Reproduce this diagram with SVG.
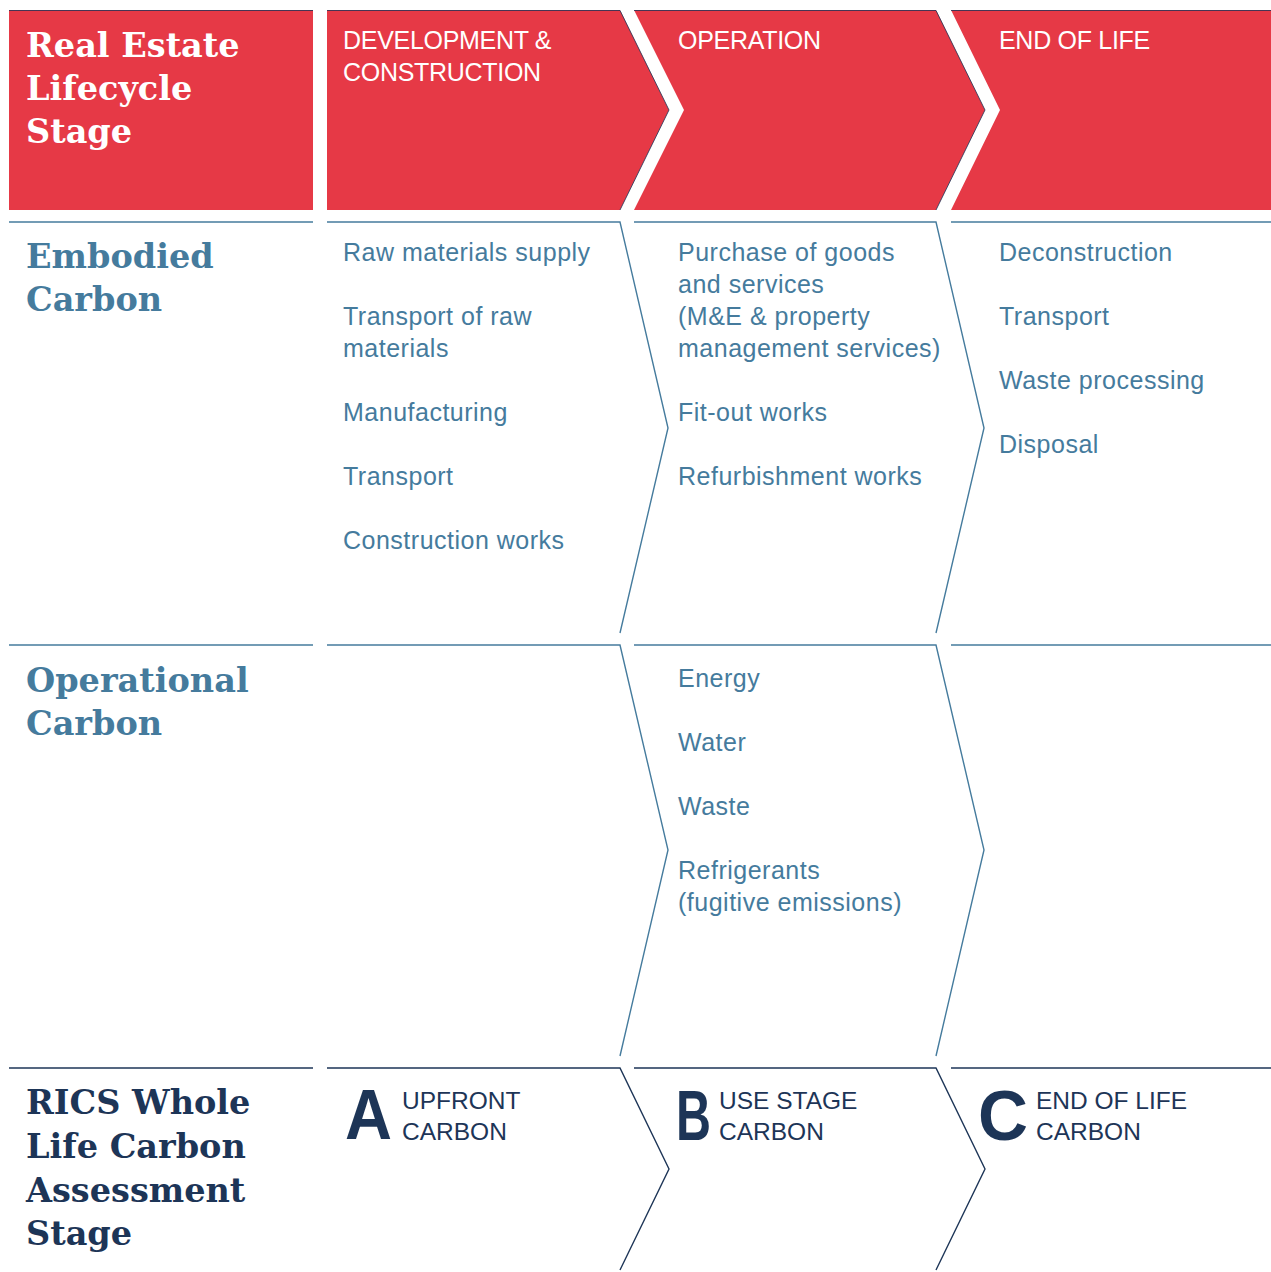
<svg xmlns="http://www.w3.org/2000/svg" width="1271" height="1272" viewBox="0 0 1271 1272">
  <style>
    .band { fill: #e63946; }
    .edge { fill: none; stroke: #1d3557; stroke-width: 1; stroke-opacity: 0.8; }
    .rule { fill: none; stroke: #457b9d; stroke-width: 1.4; }
    .rule-dark { fill: none; stroke: #1d3557; stroke-width: 1.4; }
    .title { font-family: "DejaVu Serif", "Liberation Serif", serif; font-weight: bold; font-size: 33.5px; }
    .head { font-family: "Liberation Sans", Arial, sans-serif; font-size: 25px; fill: #ffffff; letter-spacing: -0.3px; }
    .item { font-family: "Liberation Sans", Arial, sans-serif; font-size: 25px; fill: #457b9d; letter-spacing: 0.5px; }
    .stage { font-family: "Liberation Sans", Arial, sans-serif; font-size: 24.5px; fill: #1d3557; }
    .letter { font-family: "Liberation Sans", Arial, sans-serif; font-weight: bold; font-size: 70px; fill: #1d3557; }
  </style>

  <!-- Header band: lifecycle stage chevrons -->
  <g id="header-label">
    <rect class="band" x="9" y="10" width="304" height="200"/>
    <line class="edge" x1="9" y1="10.5" x2="313" y2="10.5"/>
    <text class="title" fill="#ffffff"><tspan x="26" y="57">Real Estate</tspan><tspan x="26" y="100">Lifecycle</tspan><tspan x="26" y="143">Stage</tspan></text>
  </g>
  <g id="stage-development">
    <polygon class="band" points="327,10 620,10 669,110 620,210 327,210"/>
    <polyline class="edge" points="327,10.5 620,10.5 669,110 620,210"/>
    <text class="head"><tspan x="343" y="49">DEVELOPMENT &amp;</tspan><tspan x="343" y="81">CONSTRUCTION</tspan></text>
  </g>
  <g id="stage-operation">
    <polygon class="band" points="634,10 936,10 985,110 936,210 634,210 684,110"/>
    <polyline class="edge" points="634,10.5 936,10.5 985,110 936,210"/>
    <text class="head" x="678" y="49">OPERATION</text>
  </g>
  <g id="stage-end-of-life">
    <polygon class="band" points="951,10 1271,10 1271,210 951,210 1000,110"/>
    <line class="edge" x1="951" y1="10.5" x2="1271" y2="10.5"/>
    <text class="head" x="999" y="49">END OF LIFE</text>
  </g>

  <!-- Row rules and chevron outlines -->
  <g id="connectors">
    <!-- embodied carbon row -->
    <line class="rule" x1="9" y1="222" x2="313" y2="222"/>
    <polyline class="rule" points="327,222 620,222 668,428 620,633"/>
    <polyline class="rule" points="634,222 936,222 984,428 936,633"/>
    <line class="rule" x1="951" y1="222" x2="1271" y2="222"/>
    <!-- operational carbon row -->
    <line class="rule" x1="9" y1="645" x2="313" y2="645"/>
    <polyline class="rule" points="327,645 620,645 668,850 620,1056"/>
    <polyline class="rule" points="634,645 936,645 984,850 936,1056"/>
    <line class="rule" x1="951" y1="645" x2="1271" y2="645"/>
    <!-- assessment stage row -->
    <line class="rule-dark" x1="9" y1="1068" x2="313" y2="1068"/>
    <polyline class="rule-dark" points="327,1068 620,1068 669,1169 620,1270"/>
    <polyline class="rule-dark" points="634,1068 936,1068 985,1169 936,1270"/>
    <line class="rule-dark" x1="951" y1="1068" x2="1271" y2="1068"/>
  </g>

  <!-- Embodied carbon -->
  <g id="embodied-label">
    <text class="title" fill="#457b9d"><tspan x="26" y="268">Embodied</tspan><tspan x="26" y="311">Carbon</tspan></text>
  </g>
  <g id="embodied-development">
    <text class="item">
      <tspan x="343" y="261">Raw materials supply</tspan>
      <tspan x="343" y="325">Transport of raw</tspan>
      <tspan x="343" y="357">materials</tspan>
      <tspan x="343" y="421">Manufacturing</tspan>
      <tspan x="343" y="485">Transport</tspan>
      <tspan x="343" y="549">Construction works</tspan>
    </text>
  </g>
  <g id="embodied-operation">
    <text class="item">
      <tspan x="678" y="261">Purchase of goods</tspan>
      <tspan x="678" y="293">and services</tspan>
      <tspan x="678" y="325">(M&amp;E &amp; property</tspan>
      <tspan x="678" y="357">management services)</tspan>
      <tspan x="678" y="421">Fit-out works</tspan>
      <tspan x="678" y="485">Refurbishment works</tspan>
    </text>
  </g>
  <g id="embodied-end-of-life">
    <text class="item">
      <tspan x="999" y="261">Deconstruction</tspan>
      <tspan x="999" y="325">Transport</tspan>
      <tspan x="999" y="389">Waste processing</tspan>
      <tspan x="999" y="453">Disposal</tspan>
    </text>
  </g>

  <!-- Operational carbon -->
  <g id="operational-label">
    <text class="title" fill="#457b9d"><tspan x="26" y="692">Operational</tspan><tspan x="26" y="735">Carbon</tspan></text>
  </g>
  <g id="operational-operation">
    <text class="item">
      <tspan x="678" y="687">Energy</tspan>
      <tspan x="678" y="751">Water</tspan>
      <tspan x="678" y="815">Waste</tspan>
      <tspan x="678" y="879">Refrigerants</tspan>
      <tspan x="678" y="911">(fugitive emissions)</tspan>
    </text>
  </g>

  <!-- RICS assessment stages -->
  <g id="rics-label">
    <text class="title" fill="#1d3557"><tspan x="26" y="1114">RICS Whole</tspan><tspan x="26" y="1158">Life Carbon</tspan><tspan x="26" y="1202">Assessment</tspan><tspan x="26" y="1245">Stage</tspan></text>
  </g>
  <g id="rics-a">
    <text class="letter" x="345" y="1139" textLength="47" lengthAdjust="spacingAndGlyphs">A</text>
    <text class="stage"><tspan x="402" y="1109">UPFRONT</tspan><tspan x="402" y="1140">CARBON</tspan></text>
  </g>
  <g id="rics-b">
    <text class="letter" x="676" y="1140" textLength="35" lengthAdjust="spacingAndGlyphs">B</text>
    <text class="stage"><tspan x="719" y="1109">USE STAGE</tspan><tspan x="719" y="1140">CARBON</tspan></text>
  </g>
  <g id="rics-c">
    <text class="letter" x="978" y="1140" textLength="50" lengthAdjust="spacingAndGlyphs">C</text>
    <text class="stage"><tspan x="1036" y="1109">END OF LIFE</tspan><tspan x="1036" y="1140">CARBON</tspan></text>
  </g>
</svg>
